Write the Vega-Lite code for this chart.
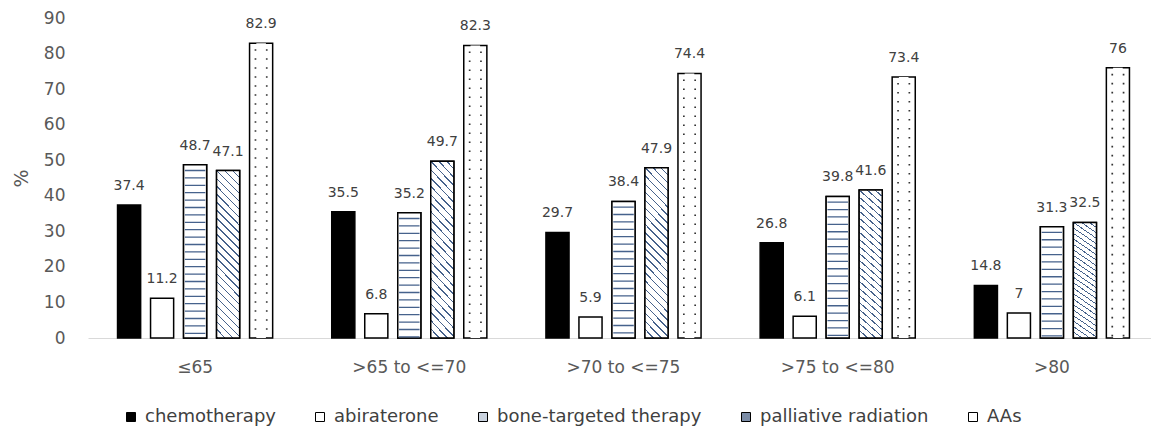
{
  "$schema": "https://vega.github.io/schema/vega-lite/v6.json",
  "width": 1063,
  "height": 320,
  "autosize": {"type": "none"},
  "padding": {"left": 88, "top": 18, "right": 0, "bottom": 92},
  "background": "white",
  "config": {"view": {"stroke": null}, "font": "DejaVu Sans"},
  "data": {
    "values": [
      {"age": "≤65", "treatment": "chemotherapy", "pct": 37.4},
      {"age": "≤65", "treatment": "abiraterone", "pct": 11.2},
      {"age": "≤65", "treatment": "bone-targeted therapy", "pct": 48.7},
      {"age": "≤65", "treatment": "palliative radiation", "pct": 47.1},
      {"age": "≤65", "treatment": "AAs", "pct": 82.9},
      {"age": ">65 to <=70", "treatment": "chemotherapy", "pct": 35.5},
      {"age": ">65 to <=70", "treatment": "abiraterone", "pct": 6.8},
      {"age": ">65 to <=70", "treatment": "bone-targeted therapy", "pct": 35.2},
      {"age": ">65 to <=70", "treatment": "palliative radiation", "pct": 49.7},
      {"age": ">65 to <=70", "treatment": "AAs", "pct": 82.3},
      {"age": ">70 to <=75", "treatment": "chemotherapy", "pct": 29.7},
      {"age": ">70 to <=75", "treatment": "abiraterone", "pct": 5.9},
      {"age": ">70 to <=75", "treatment": "bone-targeted therapy", "pct": 38.4},
      {"age": ">70 to <=75", "treatment": "palliative radiation", "pct": 47.9},
      {"age": ">70 to <=75", "treatment": "AAs", "pct": 74.4},
      {"age": ">75 to <=80", "treatment": "chemotherapy", "pct": 26.8},
      {"age": ">75 to <=80", "treatment": "abiraterone", "pct": 6.1},
      {"age": ">75 to <=80", "treatment": "bone-targeted therapy", "pct": 39.8},
      {"age": ">75 to <=80", "treatment": "palliative radiation", "pct": 41.6},
      {"age": ">75 to <=80", "treatment": "AAs", "pct": 73.4},
      {"age": ">80", "treatment": "chemotherapy", "pct": 14.8},
      {"age": ">80", "treatment": "abiraterone", "pct": 7},
      {"age": ">80", "treatment": "bone-targeted therapy", "pct": 31.3},
      {"age": ">80", "treatment": "palliative radiation", "pct": 32.5},
      {"age": ">80", "treatment": "AAs", "pct": 76}
    ]
  },
  "encoding": {
    "x": {
      "field": "age", "type": "nominal",
      "sort": ["≤65", ">65 to <=70", ">70 to <=75", ">75 to <=80", ">80"],
      "scale": {"range": [0, 1071], "paddingInner": 0, "paddingOuter": 0},
      "axis": {
        "title": null, "labelAngle": 0, "labelFontSize": 17, "labelColor": "#595959",
        "labelPadding": 21, "ticks": false, "tickSize": 0,
        "domainColor": "#d9d9d9", "domainWidth": 1, "grid": false
      }
    },
    "xOffset": {
      "field": "treatment", "type": "nominal",
      "sort": ["chemotherapy", "abiraterone", "bone-targeted therapy", "palliative radiation", "AAs"],
      "scale": {"paddingInner": 0.3, "paddingOuter": 0.895}
    },
    "y": {
      "field": "pct", "type": "quantitative",
      "scale": {"domain": [0, 90], "nice": false},
      "axis": {
        "title": "%", "titleFontSize": 19, "titleColor": "#595959", "titleFontWeight": "normal",
        "titlePadding": 12, "values": [0, 10, 20, 30, 40, 50, 60, 70, 80, 90],
        "labelFontSize": 17, "labelColor": "#595959", "labelPadding": 23,
        "domain": false, "ticks": false, "tickSize": 0, "grid": false
      }
    }
  },
  "layer": [
    {
      "mark": {"type": "bar", "stroke": "#000", "strokeWidth": 1.5},
      "encoding": {
        "fill": {
          "field": "treatment", "type": "nominal",
          "scale": {
            "domain": ["chemotherapy", "abiraterone", "bone-targeted therapy", "palliative radiation", "AAs"],
            "range": ["#000000", "#ffffff", "#c9d2de", "#7b8ca6", "#ffffff"]
          },
          "legend": {
            "title": null, "orient": "none", "legendX": 34, "legendY": 390,
            "direction": "horizontal", "symbolType": "square", "symbolSize": 81,
            "symbolStrokeColor": "#000", "symbolStrokeWidth": 1, "symbolOpacity": 1,
            "labelFontSize": 18, "labelColor": "#404040", "labelOffset": 5, "columnPadding": 35,
            "labelLimit": 400,
            "encode": {
              "symbols": {
                "update": {
                  "stroke": {"value": "#000000"},
                  "strokeWidth": {"value": 1},
                  "opacity": {"value": 1}
                }
              }
            }
          }
        }
      }
    },
    {
      "transform": [{"filter": "datum.treatment === 'bone-targeted therapy'"}],
      "mark": {"type": "bar", "stroke": "#000", "strokeWidth": 1.5, "fill": "#ffffff"}
    },
    {
      "transform": [{"filter": "datum.treatment === 'palliative radiation'"}],
      "mark": {
        "type": "bar", "stroke": "#000", "strokeWidth": 1.5,
        "fill": {
          "gradient": "linear", "x1": 0, "y1": 1, "x2": 0.155, "y2": -0.117,
          "stops": [
            {"offset": 0, "color": "#46628c"}, {"offset": 0.008, "color": "#46628c"}, {"offset": 0.008, "color": "#ffffff"}, {"offset": 0.0417, "color": "#ffffff"},
            {"offset": 0.0417, "color": "#46628c"}, {"offset": 0.0497, "color": "#46628c"}, {"offset": 0.0497, "color": "#ffffff"}, {"offset": 0.0833, "color": "#ffffff"},
            {"offset": 0.0833, "color": "#46628c"}, {"offset": 0.0913, "color": "#46628c"}, {"offset": 0.0913, "color": "#ffffff"}, {"offset": 0.125, "color": "#ffffff"},
            {"offset": 0.125, "color": "#46628c"}, {"offset": 0.133, "color": "#46628c"}, {"offset": 0.133, "color": "#ffffff"}, {"offset": 0.1667, "color": "#ffffff"},
            {"offset": 0.1667, "color": "#46628c"}, {"offset": 0.1747, "color": "#46628c"}, {"offset": 0.1747, "color": "#ffffff"}, {"offset": 0.2083, "color": "#ffffff"},
            {"offset": 0.2083, "color": "#46628c"}, {"offset": 0.2163, "color": "#46628c"}, {"offset": 0.2163, "color": "#ffffff"}, {"offset": 0.25, "color": "#ffffff"},
            {"offset": 0.25, "color": "#46628c"}, {"offset": 0.258, "color": "#46628c"}, {"offset": 0.258, "color": "#ffffff"}, {"offset": 0.2917, "color": "#ffffff"},
            {"offset": 0.2917, "color": "#46628c"}, {"offset": 0.2997, "color": "#46628c"}, {"offset": 0.2997, "color": "#ffffff"}, {"offset": 0.3333, "color": "#ffffff"},
            {"offset": 0.3333, "color": "#46628c"}, {"offset": 0.3413, "color": "#46628c"}, {"offset": 0.3413, "color": "#ffffff"}, {"offset": 0.375, "color": "#ffffff"},
            {"offset": 0.375, "color": "#46628c"}, {"offset": 0.383, "color": "#46628c"}, {"offset": 0.383, "color": "#ffffff"}, {"offset": 0.4167, "color": "#ffffff"},
            {"offset": 0.4167, "color": "#46628c"}, {"offset": 0.4247, "color": "#46628c"}, {"offset": 0.4247, "color": "#ffffff"}, {"offset": 0.4583, "color": "#ffffff"},
            {"offset": 0.4583, "color": "#46628c"}, {"offset": 0.4663, "color": "#46628c"}, {"offset": 0.4663, "color": "#ffffff"}, {"offset": 0.5, "color": "#ffffff"},
            {"offset": 0.5, "color": "#46628c"}, {"offset": 0.508, "color": "#46628c"}, {"offset": 0.508, "color": "#ffffff"}, {"offset": 0.5417, "color": "#ffffff"},
            {"offset": 0.5417, "color": "#46628c"}, {"offset": 0.5497, "color": "#46628c"}, {"offset": 0.5497, "color": "#ffffff"}, {"offset": 0.5833, "color": "#ffffff"},
            {"offset": 0.5833, "color": "#46628c"}, {"offset": 0.5913, "color": "#46628c"}, {"offset": 0.5913, "color": "#ffffff"}, {"offset": 0.625, "color": "#ffffff"},
            {"offset": 0.625, "color": "#46628c"}, {"offset": 0.633, "color": "#46628c"}, {"offset": 0.633, "color": "#ffffff"}, {"offset": 0.6667, "color": "#ffffff"},
            {"offset": 0.6667, "color": "#46628c"}, {"offset": 0.6747, "color": "#46628c"}, {"offset": 0.6747, "color": "#ffffff"}, {"offset": 0.7083, "color": "#ffffff"},
            {"offset": 0.7083, "color": "#46628c"}, {"offset": 0.7163, "color": "#46628c"}, {"offset": 0.7163, "color": "#ffffff"}, {"offset": 0.75, "color": "#ffffff"},
            {"offset": 0.75, "color": "#46628c"}, {"offset": 0.758, "color": "#46628c"}, {"offset": 0.758, "color": "#ffffff"}, {"offset": 0.7917, "color": "#ffffff"},
            {"offset": 0.7917, "color": "#46628c"}, {"offset": 0.7997, "color": "#46628c"}, {"offset": 0.7997, "color": "#ffffff"}, {"offset": 0.8333, "color": "#ffffff"},
            {"offset": 0.8333, "color": "#46628c"}, {"offset": 0.8413, "color": "#46628c"}, {"offset": 0.8413, "color": "#ffffff"}, {"offset": 0.875, "color": "#ffffff"},
            {"offset": 0.875, "color": "#46628c"}, {"offset": 0.883, "color": "#46628c"}, {"offset": 0.883, "color": "#ffffff"}, {"offset": 0.9167, "color": "#ffffff"},
            {"offset": 0.9167, "color": "#46628c"}, {"offset": 0.9247, "color": "#46628c"}, {"offset": 0.9247, "color": "#ffffff"}, {"offset": 0.9583, "color": "#ffffff"},
            {"offset": 0.9583, "color": "#46628c"}, {"offset": 0.9663, "color": "#46628c"}, {"offset": 0.9663, "color": "#ffffff"}, {"offset": 1, "color": "#ffffff"}
          ]
        }
      }
    },
    {
      "transform": [{"filter": "datum.treatment === 'bone-targeted therapy'"}],
      "mark": {"type": "rule", "stroke": "#46628c", "strokeWidth": 20.5, "strokeDash": [1.3, 6.1], "strokeDashOffset": -5},
      "encoding": {"y2": {"datum": 0}}
    },
    {
      "transform": [{"filter": "datum.treatment === 'AAs'"}],
      "mark": {"type": "rule", "stroke": "#333333", "strokeWidth": 13, "strokeDash": [1.6, 7.4], "strokeDashOffset": -6},
      "encoding": {"y2": {"datum": 0}}
    },
    {
      "transform": [{"filter": "datum.treatment === 'AAs'"}],
      "mark": {"type": "rule", "stroke": "#ffffff", "strokeWidth": 9.6},
      "encoding": {"y2": {"datum": 0}}
    },
    {
      "mark": {"type": "text", "dy": -15, "baseline": "alphabetic", "fontSize": 14, "fill": "#404040"},
      "encoding": {"text": {"field": "pct", "type": "quantitative"}}
    }
  ]
}
